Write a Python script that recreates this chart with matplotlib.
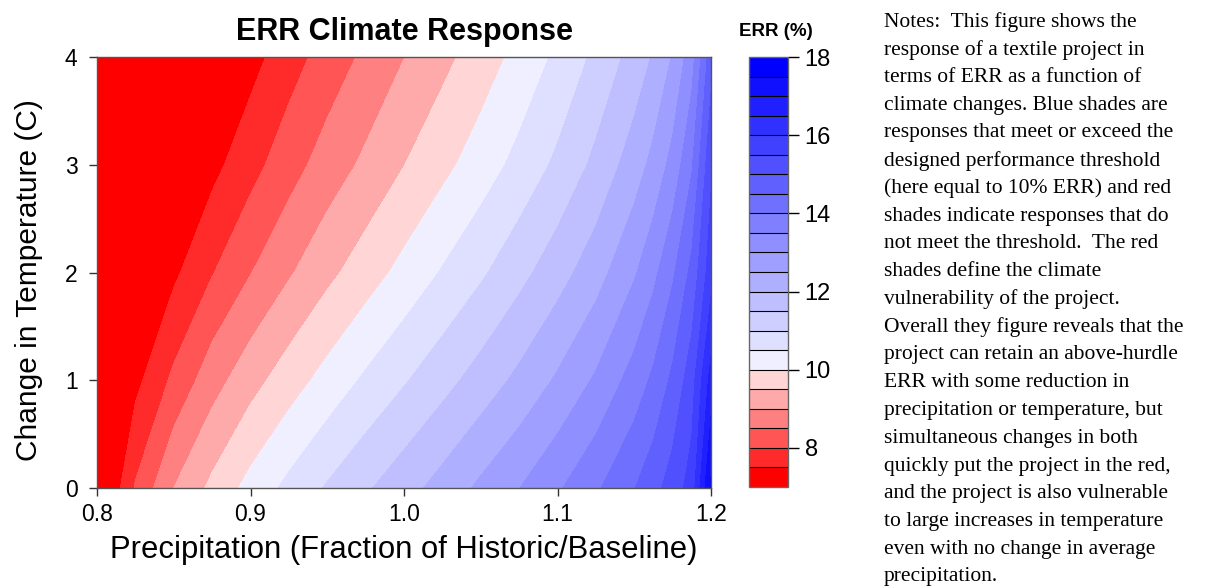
import numpy as np
import matplotlib
matplotlib.use("Agg")
import matplotlib.pyplot as plt

# precipitation grid (fraction of baseline) and temperature change rows (C)
precip = [0.8, 0.8125, 0.825, 0.85, 0.875, 0.9, 0.925, 0.95, 0.975, 1.0,
          1.025, 1.05, 1.075, 1.1, 1.125, 1.15, 1.1625, 1.175, 1.1875, 1.2]
temp = [0, 1, 2, 3, 4]

# ERR (%), one row per temperature
err_t0 = [7.0, 7.35, 8.05, 9.0, 9.62, 10.17, 10.63, 11.05, 11.43, 11.80,
          12.19, 12.60, 12.99, 13.43, 13.92, 14.48, 14.82, 15.23, 15.70, 17.6]
err_t1 = [7.0, 7.2, 7.36, 8.11, 8.79, 9.31, 9.76, 10.18, 10.58, 10.95,
          11.32, 11.71, 12.12, 12.57, 13.07, 13.71, 14.10, 14.61, 15.28, 16.7]
err_t2 = [7.0, 7.05, 7.1, 7.40, 7.97, 8.48, 8.94, 9.37, 9.76, 10.15,
          10.54, 10.92, 11.34, 11.79, 12.29, 12.94, 13.37, 13.92, 14.64, 15.8]
err_t3 = [7.0, 7.0, 7.05, 7.2, 7.35, 7.82, 8.29, 8.72, 9.10, 9.49,
          9.86, 10.24, 10.65, 11.10, 11.62, 12.25, 12.65, 13.17, 13.94, 15.4]
err_t4 = [7.0, 7.0, 7.0, 7.05, 7.15, 7.32, 7.78, 8.21, 8.60, 8.99,
          9.36, 9.74, 10.15, 10.60, 11.11, 11.69, 12.05, 12.54, 13.29, 14.8]

levels = np.arange(7, 18.01, 0.5)
cbar_ticks = [8, 10, 12, 14, 16, 18]

notes = [
    "Notes:  This figure shows the",
    "response of a textile project in",
    "terms of ERR as a function of",
    "climate changes. Blue shades are",
    "responses that meet or exceed the",
    "designed performance threshold",
    "(here equal to 10% ERR) and red",
    "shades indicate responses that do",
    "not meet the threshold.  The red",
    "shades define the climate",
    "vulnerability of the project.",
    "Overall they figure reveals that the",
    "project can retain an above-hurdle",
    "ERR with some reduction in",
    "precipitation or temperature, but",
    "simultaneous changes in both",
    "quickly put the project in the red,",
    "and the project is also vulnerable",
    "to large increases in temperature",
    "even with no change in average",
    "precipitation.",
]

# red ramp below the 10% hurdle, blue ramp above it
reds = [(1.0, k / 6, k / 6) for k in range(6)]
blues = [((15 - j) / 16, (15 - j) / 16, 1.0) for j in range(16)]
colors = reds + blues

plt.rcParams["font.family"] = ["Liberation Sans", "DejaVu Sans"]

W, H = 1225, 588
fig = plt.figure(figsize=(W / 100, H / 100), dpi=100)

ax = fig.add_axes([97 / W, 1 - 488 / H, 614 / W, 431 / H])
Z = np.array([err_t0, err_t1, err_t2, err_t3, err_t4])
cs = ax.contourf(precip, temp, Z, levels=levels, colors=colors)
ax.set_xlim(0.8, 1.2)
ax.set_ylim(0, 4)
ax.set_xticks([0.8, 0.9, 1.0, 1.1, 1.2])
ax.set_xticklabels(["0.8", "0.9", "1.0", "1.1", "1.2"])
ax.set_yticks([0, 1, 2, 3, 4])
ax.tick_params(direction="out", length=6, width=1, labelsize=16.5,
               color="#333333")
ax.tick_params(axis="x", pad=5)
ax.tick_params(axis="y", pad=8)
for s in ax.spines.values():
    s.set_color("#555555")
    s.set_linewidth(1)
ax.set_xlabel("Precipitation (Fraction of Historic/Baseline)", fontsize=22.3,
              labelpad=6)
ax.set_ylabel("Change in Temperature (C)", fontsize=21.5)
ax.yaxis.set_label_coords(-0.088, 0.4826)
ax.set_title("ERR Climate Response", fontsize=22, fontweight="bold", pad=12)

cax = fig.add_axes([749 / W, 1 - 487 / H, 39 / W, 430 / H])
cb = fig.colorbar(cs, cax=cax, ticks=cbar_ticks, drawedges=True)
cb.dividers.set_color("black")
cb.dividers.set_linewidth(0.8)
cb.outline.set_edgecolor("#666666")
cb.outline.set_linewidth(1)
cax.tick_params(direction="out", length=8, width=1, labelsize=17, pad=4)
fig.text(776 / W, 1 - 31 / H, "ERR (%)", fontsize=13.5, fontweight="bold",
         ha="center", va="center")

y0 = 22
step = 27.75
for i, line in enumerate(notes):
    fig.text(884 / W, 1 - (y0 + i * step) / H, line, fontsize=15.5,
             family=["Liberation Serif", "DejaVu Serif"], va="center",
             ha="left")

fig.savefig("out.png", dpi=100)
